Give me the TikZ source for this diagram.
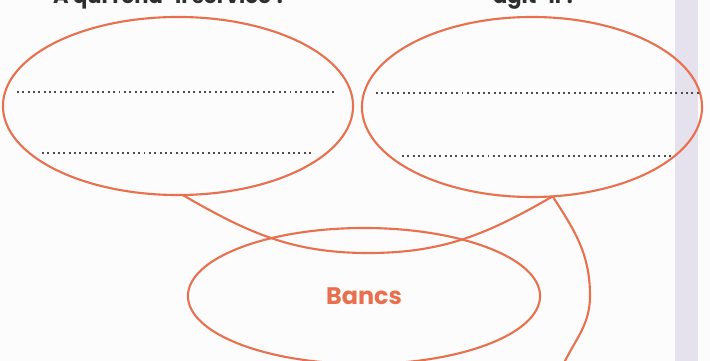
\documentclass[tikz,border=0pt]{standalone}
\usepackage{fontspec}
\setmainfont{Poppins}
\usetikzlibrary{shapes.geometric}
\definecolor{bulle}{HTML}{E8704E}
\definecolor{marge}{HTML}{E5E1ED}
\definecolor{titre}{HTML}{2E2E2E}
\tikzset{
  bulle/.style={ellipse, draw=bulle, line width=1.5pt, inner sep=0pt, outer sep=0pt},
  lien/.style={draw=bulle, line width=1.5pt},
  ligne/.style={draw=black!70, line width=1.7pt, dash pattern=on 1.4pt off 2.4pt},
  titre/.style={anchor=base, text=titre, font=\bfseries\fontsize{15}{18}\selectfont}
}
\begin{document}
\begin{tikzpicture}[x=0.025cm, y=0.025cm]
\useasboundingbox (0,0) rectangle (710,-361);
\clip (0,0) rectangle (710,-361);
\fill[white!97!black!40] (0,0) rectangle (710,-361);
\fill[marge] (675,0) rectangle (698,-361);
% les questions, coupées par le haut
\node[titre] (q1) at (170,-3.5) {À qui rend-il service ?};
\node[titre] (q2) at (535,-3.5) {agit-il ?};
% les trois bulles
\node[bulle, minimum width=8.75cm, minimum height=4.45cm] (service) at (178,-106) {};
\node[bulle, minimum width=8.5cm, minimum height=4.5cm] (agit) at (532,-107) {};
\node[bulle, minimum width=8.8cm, minimum height=3.4cm, text=bulle,
  font=\bfseries\fontsize{17}{20}\selectfont] (bancs) at (364,-296) {Bancs};
% lignes pour écrire
\draw[ligne] (17,-92) -- (337,-92);
\draw[ligne] (42,-153) -- (312,-153);
\draw[ligne] (376,-93) -- (700,-93);
\draw[ligne] (402,-156) -- (673,-156);
% les liens
\coordinate (bas) at (368,-253);
\coordinate (fin) at (560,-372);
\draw[lien] (service.-87) to[out=-30, in=180] (bas) to[out=0, in=-150] (agit.-77);
\draw[lien] (agit.-77) to[out=-57, in=90] (590,-296) to[out=-90, in=68] (fin);
\end{tikzpicture}
\end{document}
